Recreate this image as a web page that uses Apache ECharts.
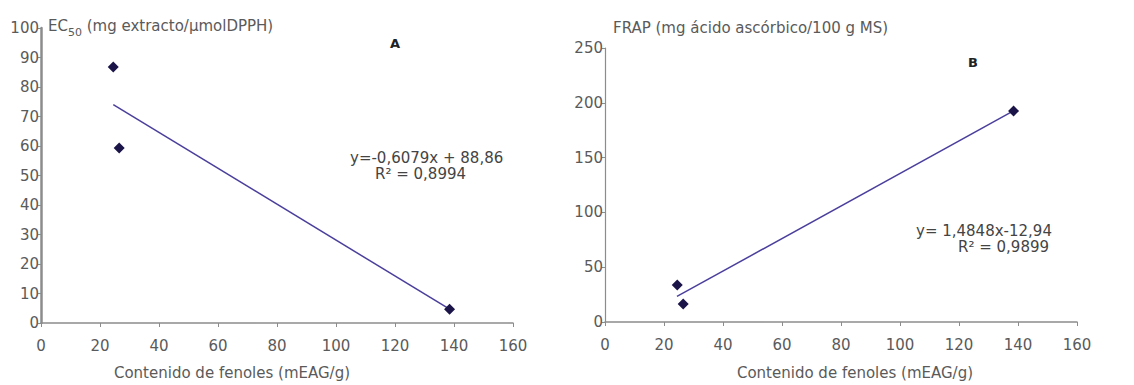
<!DOCTYPE html>
<html>
<head>
<meta charset="utf-8">
<script src="https://cdn.jsdelivr.net/npm/echarts@6/dist/echarts.min.js"></script>
<style>
  html, body { margin: 0; padding: 0; background: #fff; }
  #chart { width: 1134px; height: 385px; }
</style>
</head>
<body>
<div id="chart"></div>
<script>
// phenol content (x) shared by both panels
const fenoles = [24.5, 26.5, 138.5];
// panel A: EC50
const ec50 = [86.8, 59.3, 4.7];
const trendA = [[24.5, 74.0], [138.5, 4.7]];
// panel B: FRAP
const frap = [33.8, 16.4, 192.5];
const trendB = [[24.4, 23.3], [138.3, 192.4]];

const xTicks = [0, 20, 40, 60, 80, 100, 120, 140, 160];
const yTicksA = [0, 10, 20, 30, 40, 50, 60, 70, 80, 90, 100];
const yTicksB = [0, 50, 100, 150, 200, 250];

const eqA = ['y=-0,6079x + 88,86', 'R² = 0,8994'];
const eqB = ['y= 1,4848x-12,94', 'R² = 0,9899'];
const xTitle = 'Contenido de fenoles (mEAG/g)';

const font = 'DejaVu Sans, Verdana, sans-serif';
const gray = '#5a5a5a';
const axisGray = '#8c8c8c';
const markerColor = '#1a1448';
const lineColor = '#4a3f9c';

function xAxis(gridIndex) {
  return {
    type: 'value', gridIndex,
    min: xTicks[0], max: xTicks[xTicks.length - 1], interval: xTicks[1] - xTicks[0],
    splitLine: { show: false },
    axisLine: { lineStyle: { color: axisGray, width: 1.5 } },
    axisTick: { length: 4, lineStyle: { color: axisGray } },
    axisLabel: { color: gray, fontFamily: font, fontSize: 15, margin: 15 }
  };
}

function yAxis(gridIndex, ticks) {
  return {
    type: 'value', gridIndex,
    min: ticks[0], max: ticks[ticks.length - 1], interval: ticks[1] - ticks[0],
    splitLine: { show: false },
    axisLine: { show: true, lineStyle: { color: axisGray, width: gridIndex === 0 ? 2.5 : 1.2 } },
    axisTick: { show: true, length: 3, lineStyle: { color: axisGray } },
    axisLabel: { color: gray, fontFamily: font, fontSize: 15, margin: 2 }
  };
}

function toPairs(xs, ys) {
  return xs.map((x, i) => [x, ys[i]]);
}

function txt(x, y, text, extra) {
  return {
    type: 'text', x, y,
    style: Object.assign({
      text, fill: gray, font: '15px ' + font,
      textAlign: 'left', textVerticalAlign: 'middle'
    }, extra || {})
  };
}

const chart = echarts.init(document.getElementById('chart'), null, { renderer: 'svg' });

chart.setOption({
  animation: false,
  grid: [
    { left: 41, right: 621, top: 28, bottom: 62 },
    { left: 605, right: 57, top: 48, bottom: 63 }
  ],
  xAxis: [xAxis(0), xAxis(1)],
  yAxis: [yAxis(0, yTicksA), yAxis(1, yTicksB)],
  series: [
    {
      type: 'line', xAxisIndex: 0, yAxisIndex: 0, data: trendA,
      symbol: 'none', lineStyle: { color: lineColor, width: 1.5 }, z: 1
    },
    {
      type: 'scatter', xAxisIndex: 0, yAxisIndex: 0, data: toPairs(fenoles, ec50),
      symbol: 'diamond', symbolSize: 11, itemStyle: { color: markerColor, opacity: 1 }, z: 2
    },
    {
      type: 'line', xAxisIndex: 1, yAxisIndex: 1, data: trendB,
      symbol: 'none', lineStyle: { color: lineColor, width: 1.5 }, z: 1
    },
    {
      type: 'scatter', xAxisIndex: 1, yAxisIndex: 1, data: toPairs(fenoles, frap),
      symbol: 'diamond', symbolSize: 11, itemStyle: { color: markerColor, opacity: 1 }, z: 2
    }
  ],
  graphic: [
    {
      type: 'text', x: 48, y: 28,
      style: {
        text: '{a|EC}{s|50}{a| (mg extracto/µmolDPPH)}',
        textVerticalAlign: 'middle',
        rich: {
          a: { fontFamily: font, fontSize: 15, fill: gray, color: gray, verticalAlign: 'top' },
          s: { fontFamily: font, fontSize: 11, fill: gray, color: gray, padding: [9, 0, 0, 0] }
        }
      }
    },
    txt(613, 28, 'FRAP (mg ácido ascórbico/100 g MS)'),
    txt(390, 43, 'A', { fill: '#222', font: 'bold 13px ' + font }),
    txt(968, 62, 'B', { fill: '#222', font: 'bold 13px ' + font }),
    txt(350, 158, eqA[0], { fill: '#444' }),
    txt(375, 174, eqA[1], { fill: '#444' }),
    txt(916, 231, eqB[0], { fill: '#444' }),
    txt(958, 247, eqB[1], { fill: '#444' }),
    txt(232, 373, xTitle, { textAlign: 'center' }),
    txt(855, 373, xTitle, { textAlign: 'center' })
  ]
});
</script>
</body>
</html>
